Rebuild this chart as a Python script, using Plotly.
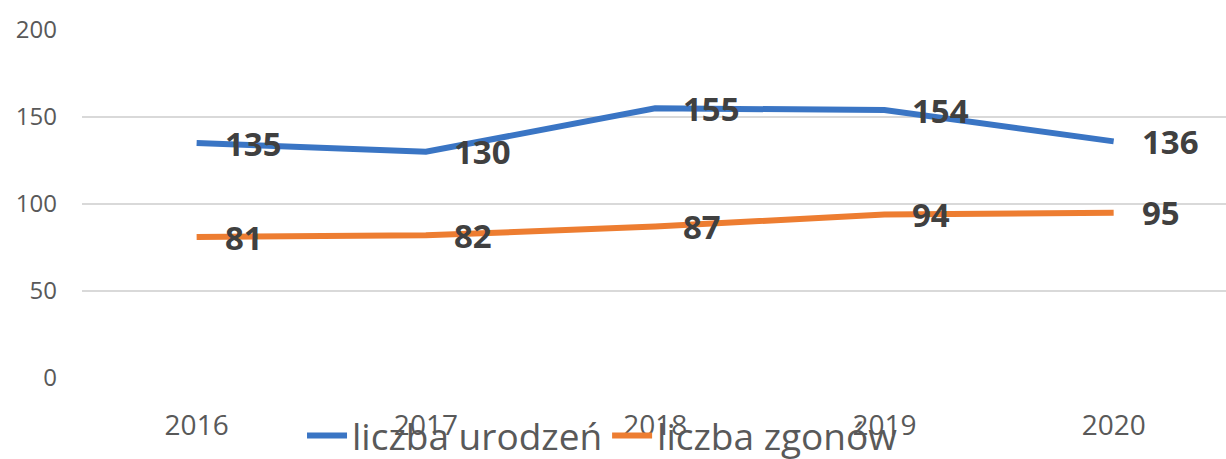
import plotly.graph_objects as go

years = ["2016", "2017", "2018", "2019", "2020"]
urodzenia = [135, 130, 155, 154, 136]
zgony = [81, 82, 87, 94, 95]
series_names = ["liczba urodzeń", "liczba zgonów"]
colors = ["#3A75C4", "#ED7D31"]
y_ticks = [0, 50, 100, 150, 200]

fig = go.Figure()
for name, vals, col in zip(series_names, [urodzenia, zgony], colors):
    fig.add_trace(go.Scatter(x=years, y=vals, mode="lines", name=name,
                             line=dict(color=col, width=6), hoverinfo="skip"))
    for i, yv in enumerate(vals):
        fig.add_annotation(x=i, y=yv, text=str(yv), showarrow=False,
                           xanchor="left", yanchor="middle", xshift=26,
                           font=dict(family="Open Sans", size=33, color="#404040", weight="bold"))

fig.update_layout(
    width=1226, height=459,
    margin=dict(l=82, r=0, t=30, b=81, autoexpand=False),
    paper_bgcolor="white", plot_bgcolor="white",
    font=dict(family="Open Sans", color="#595959"),
    showlegend=True,
    legend=dict(orientation="h", x=0.455, xanchor="center",
                yref="container", y=0.05, yanchor="middle",
                font=dict(family="Open Sans", size=37, color="#595959"),
                itemwidth=40, bgcolor="rgba(0,0,0,0)"),
)
fig.update_xaxes(type="category", range=[-0.5, 4.49], showgrid=False, showline=False,
                 zeroline=False, ticks="", ticklabelstandoff=28,
                 tickfont=dict(family="Open Sans", size=28, color="#595959"))
fig.update_yaxes(range=[0, 200], tickvals=y_ticks, showgrid=True, gridcolor="#D9D9D9",
                 gridwidth=2, zeroline=False, showline=False, ticks="",
                 ticklabelstandoff=24,
                 tickfont=dict(family="Open Sans", size=24, color="#595959"))

fig.write_html("out.html")
